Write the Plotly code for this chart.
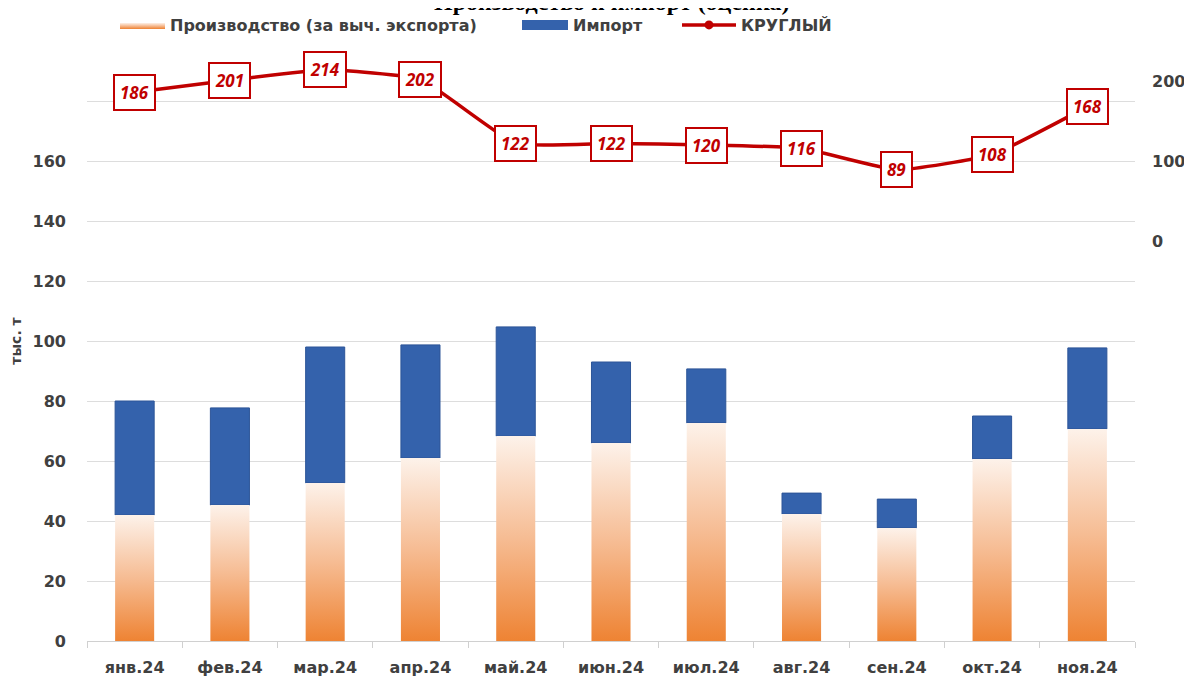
import plotly.graph_objects as go

months = ["янв.24", "фев.24", "мар.24", "апр.24", "май.24", "июн.24",
          "июл.24", "авг.24", "сен.24", "окт.24", "ноя.24"]
production = [42, 45.3, 52.7, 61, 68.3, 66, 72.7, 42.3, 37.7, 60.7, 70.7]
imports = [38, 32.4, 45.3, 37.7, 36.4, 27, 18, 7, 9.6, 14.3, 27]
round_price = [186, 201, 214, 202, 122, 122, 120, 116, 89, 108, 168]

left_ticks = [0, 20, 40, 60, 80, 100, 120, 140, 160, 180]
left_ticktext = ["0", "20", "40", "60", "80", "100", "120", "140", "160", ""]
right_ticks = [0, 100, 200]

BAR_W = 0.41
TXT = "#404040"
RED = "#C00000"
BLUE = "#3462AC"
FONT = "DejaVu Sans"
W, H = 1184, 671

fig = go.Figure()

xs = list(range(len(months)))

# production bars with vertical gradient (one filled shape per bar)
for i, p in zip(xs, production):
    fig.add_trace(go.Scatter(
        x=[i - BAR_W / 2, i + BAR_W / 2, i + BAR_W / 2, i - BAR_W / 2, i - BAR_W / 2],
        y=[0, 0, p, p, 0],
        mode="lines", line=dict(width=0, color="rgba(0,0,0,0)"),
        fill="toself",
        fillcolor="#F3A46C",
        fillgradient=dict(type="vertical",
                          colorscale=[[0, "#EE8333"], [0.5, "#F6BC93"], [1, "#FDF2EA"]]),
        name="Производство (за выч. экспорта)",
        legendgroup="prod", showlegend=(i == 0), legend="legend",
        hoverinfo="skip",
    ))

fig.add_trace(go.Bar(
    x=xs, y=imports, base=production, width=BAR_W,
    marker=dict(color=BLUE, line=dict(color="#2D5598", width=1)),
    name="Импорт", legendgroup="imp", showlegend=False,
))
# legend-only entry giving the wide blue swatch
fig.add_trace(go.Scatter(
    x=[None], y=[None], mode="lines", line=dict(color=BLUE, width=13),
    name="Импорт", legendgroup="imp", legend="legend2",
))

fig.add_trace(go.Scatter(
    x=xs, y=round_price, yaxis="y2",
    mode="lines+markers",
    line=dict(color=RED, width=3.5, shape="spline", smoothing=0.4),
    marker=dict(color=RED, size=9),
    name="КРУГЛЫЙ", legend="legend3",
))

for i, v in zip(xs, round_price):
    fig.add_annotation(
        x=i, y=v, xref="x", yref="y2", text=f"<b><i>{v}</i></b>",
        showarrow=False, bgcolor="white", bordercolor=RED, borderwidth=2,
        borderpad=5, font=dict(family="Open Sans", size=17, color=RED),
    )

# clipped title at top of the image (only its lower part is visible)
fig.add_annotation(
    x=0.5, y=1.04, xref="paper", yref="paper", yanchor="bottom",
    text="<b>Производство и импорт (оценка)</b>", showarrow=False,
    font=dict(family="Liberation Serif", size=24, color="black"),
)


def leg(x_px, itemwidth):
    return dict(orientation="h", x=x_px / W, xref="container", xanchor="left",
                y=1 - 17 / H, yref="container", yanchor="middle",
                font=dict(family=FONT, size=16, color=TXT, weight="bold"),
                bgcolor="rgba(0,0,0,0)", itemwidth=itemwidth)


fig.update_layout(
    width=W, height=H,
    margin=dict(l=79, r=57, t=33, b=38, autoexpand=False),
    paper_bgcolor="white", plot_bgcolor="white",
    font=dict(family=FONT, color=TXT),
    barmode="overlay",
    showlegend=True,
    legend=leg(107, 45),
    legend2=leg(509, 46),
    legend3=leg(669, 54),
    xaxis=dict(
        range=[-0.5, len(months) - 0.5],
        tickvals=xs, ticktext=months, ticks="",
        tickfont=dict(family=FONT, size=16, color=TXT, weight="bold"),
        showgrid=False, showline=True, linecolor="#D0D0D0", linewidth=1,
        minor=dict(tick0=-0.5, dtick=1, ticks="outside", ticklen=6,
                   tickcolor="#D0D0D0", showgrid=False),
        ticklabelstandoff=12, zeroline=False, automargin=False,
    ),
    yaxis=dict(
        range=[0, 200], tickvals=left_ticks, ticktext=left_ticktext,
        showgrid=True, gridcolor="#DDDDDD", gridwidth=1, zeroline=False,
        tickfont=dict(family=FONT, size=16, color=TXT, weight="bold"),
        ticklabelstandoff=20, automargin=False,
        title=dict(text="тыс. т", standoff=14,
                   font=dict(family=FONT, size=14, color=TXT, weight="bold")),
    ),
    yaxis2=dict(
        overlaying="y", side="right", range=[-500, 250], tickvals=right_ticks,
        showgrid=False, zeroline=False, automargin=False,
        tickfont=dict(family=FONT, size=16, color=TXT, weight="bold"),
        ticklabelstandoff=16,
    ),
)

fig.write_html("out.html")
